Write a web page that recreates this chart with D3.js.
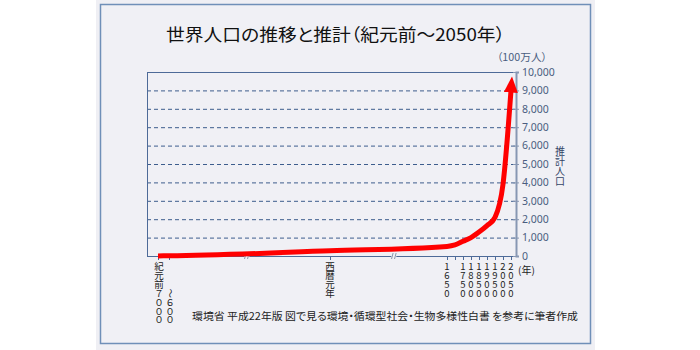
<!DOCTYPE html>
<html><head><meta charset="utf-8">
<script src="https://cdn.jsdelivr.net/npm/d3@7/dist/d3.min.js"></script>
<style>
html,body{margin:0;padding:0;background:#fff;}
svg{display:block;}
text{font-family:"Noto Sans CJK JP","Noto Sans",sans-serif;}
.palt{font-feature-settings:"palt" 1;}
</style></head>
<body>
<svg id="chart" width="700" height="350"></svg>
<script>
// ---- data ----
const title = "世界人口の推移と推計（紀元前～2050年）";
const years = [-7000, -6000, 0, 1650, 1700, 1750, 1800, 1850, 1900, 1950, 2000, 2050];
const population = [5, 10, 280, 520, 600, 800, 1000, 1300, 1650, 2100, 3900, 9000];
const yTicks = [0, 1000, 2000, 3000, 4000, 5000, 6000, 7000, 8000, 9000, 10000];
const yTickLabels = ["0", "1,000", "2,000", "3,000", "4,000", "5,000", "6,000", "7,000", "8,000", "9,000", "10,000"];
const xTickYears = [-7000, -6000, 0, 1650, 1700, 1750, 1800, 1850, 1900, 1950, 2000, 2050];
const xLabelYears = [-7000, -6000, 0, 1650, 1750, 1800, 1850, 1900, 1950, 2000, 2050];
const xLabelTexts = ["紀元前７０００", "～６００", "西暦元年", "1650", "1750", "1800", "1850", "1900", "1950", "2000", "2050"];
const xLabelStartRow = [0, 3, 0, 0, 0, 0, 0, 0, 0, 0, 0];
const breakYears = [-3100, 900];
const yUnit = "（100万人）";
const yTitle = "推計人口";
const xUnit = "(年)";
const source = "環境省 平成22年版 図で見る環境・循環型社会・生物多様性白書 を参考に筆者作成";

// ---- layout ----
const svg = d3.select("#chart");
const plot = {left: 147, right: 516, top: 72, bottom: 256};
const x = d3.scaleLinear().domain([-7000, -6000, 0, 1650, 2050]).range([158, 169, 330, 447, 511]);
const y = d3.scaleLinear().domain([0, 10000]).range([plot.bottom, plot.top]);

// background card
svg.append("rect").attr("x", 96).attr("y", 0).attr("width", 499).attr("height", 350).attr("fill", "#efeff4");
svg.append("rect").attr("x", 100.5).attr("y", 4.5).attr("width", 490).attr("height", 339)
  .attr("fill", "#f0f0f5").attr("stroke", "#6f8fb8").attr("stroke-width", 1.5);

// title
svg.append("text").attr("class", "palt").attr("x", 166).attr("y", 41).attr("font-size", 17.5).attr("fill", "#111")
  .attr("textLength", 339).attr("lengthAdjust", "spacingAndGlyphs").text(title);

// gridlines (dashed)
svg.append("g").selectAll("line").data(yTicks.filter(v => v > 0 && v < 10000)).join("line")
  .attr("x1", plot.left).attr("x2", plot.right).attr("y1", d => y(d) + 0.5).attr("y2", d => y(d) + 0.5)
  .attr("stroke", "#3d5d8d").attr("stroke-width", 1).attr("stroke-dasharray", "4,3");

// plot frame
const fr = svg.append("g").attr("stroke", "#4d6a98").attr("stroke-width", 1).attr("fill", "none");
fr.append("line").attr("x1", plot.left + 0.5).attr("x2", plot.left + 0.5).attr("y1", plot.top).attr("y2", plot.bottom);
fr.append("line").attr("x1", plot.left).attr("x2", plot.right).attr("y1", plot.top + 0.5).attr("y2", plot.top + 0.5);
fr.append("line").attr("x1", plot.left).attr("x2", plot.right).attr("y1", plot.bottom + 0.5).attr("y2", plot.bottom + 0.5);

// right y axis
const yAxis = d3.axisRight(y).tickValues(yTicks).tickFormat((d, i) => yTickLabels[i]).tickSize(3).tickPadding(3);
const ya = svg.append("g").attr("transform", `translate(${plot.right},0)`).call(yAxis);
ya.select(".domain").attr("stroke", "#8797b3").attr("stroke-width", 2);
ya.selectAll(".tick line").attr("stroke", "#8797b3").attr("x1", -3).attr("stroke-width", 1);
ya.selectAll(".tick text").attr("fill", "#4a5d80").attr("font-size", 10.5)
  .style("font-family", "'Noto Sans','Liberation Sans',sans-serif");

svg.append("text").attr("class", "palt").attr("x", 497).attr("y", 61).attr("font-size", 10.5).attr("fill", "#4a5d80")
  .attr("textLength", 50).attr("lengthAdjust", "spacingAndGlyphs").text(yUnit);

// vertical y title (one glyph per row)
svg.append("g").selectAll("text").data(Array.from(yTitle)).join("text")
  .attr("x", 560).attr("y", (d, i) => 155 + i * 10).attr("text-anchor", "middle")
  .attr("font-size", 10).attr("fill", "#334466").text(d => d);

// x ticks
svg.append("g").selectAll("line").data(xTickYears).join("line")
  .attr("x1", d => Math.round(x(d)) + 0.5).attr("x2", d => Math.round(x(d)) + 0.5)
  .attr("y1", plot.bottom).attr("y2", plot.bottom + 4)
  .attr("stroke", "#4d6a98").attr("stroke-width", 1);

// axis break marks
const br = svg.append("g").selectAll("g").data(breakYears).join("g")
  .attr("transform", d => `translate(${x(d)},${plot.bottom})`);
br.append("rect").attr("x", -2.5).attr("y", -3).attr("width", 5).attr("height", 7).attr("fill", "#f0f0f5");
br.selectAll("line").data([-1.5, 1.5]).join("line")
  .attr("x1", d => d - 0.8).attr("x2", d => d + 0.8).attr("y1", 3).attr("y2", -3)
  .attr("stroke", "#8a96aa").attr("stroke-width", 1);

// x labels (stacked, one glyph per row)
const xl = svg.append("g").selectAll("g").data(xLabelYears).join("g")
  .attr("transform", (d, i) => `translate(${x(d) + (i < 2 ? 1 : 0)},0)`);
xl.each(function (d, i) {
  const chars = Array.from(xLabelTexts[i]);
  d3.select(this).selectAll("text").data(chars).join("text")
    .attr("text-anchor", "middle").attr("font-size", 9.5).attr("fill", "#222")
    .attr("transform", (c, k) => {
      const yy = 270 + 8.9 * (k + xLabelStartRow[i]);
      return c === "～" ? `translate(0,${yy - 3.5}) rotate(90)` : `translate(0,${yy})`;
    })
    .attr("dy", c => c === "～" ? "0.35em" : 0)
    .text(c => c);
});
svg.append("text").attr("x", 518).attr("y", 274).attr("font-size", 10).attr("fill", "#222").text(xUnit);

// source
svg.append("text").attr("class", "palt").attr("x", 192).attr("y", 320).attr("font-size", 10.5).attr("fill", "#222")
  .attr("textLength", 386).attr("lengthAdjust", "spacingAndGlyphs").text(source);

// red line with arrow
const defs = svg.append("defs");
defs.append("marker").attr("id", "arrow").attr("markerUnits", "userSpaceOnUse")
  .attr("viewBox", "0 0 16 14").attr("refX", 2).attr("refY", 7)
  .attr("markerWidth", 16).attr("markerHeight", 14).attr("orient", "auto")
  .append("path").attr("d", "M0,0 L16,7 L0,14 Z").attr("fill", "#ff0000");

const pts = years.map((yr, i) => [x(yr), y(population[i])]);
svg.append("path").datum(pts)
  .attr("d", d3.line().curve(d3.curveMonotoneX))
  .attr("fill", "none").attr("stroke", "#ff0000").attr("stroke-width", 5)
  .attr("stroke-linecap", "butt").attr("stroke-linejoin", "round")
  .attr("marker-end", "url(#arrow)");
</script>
</body></html>
